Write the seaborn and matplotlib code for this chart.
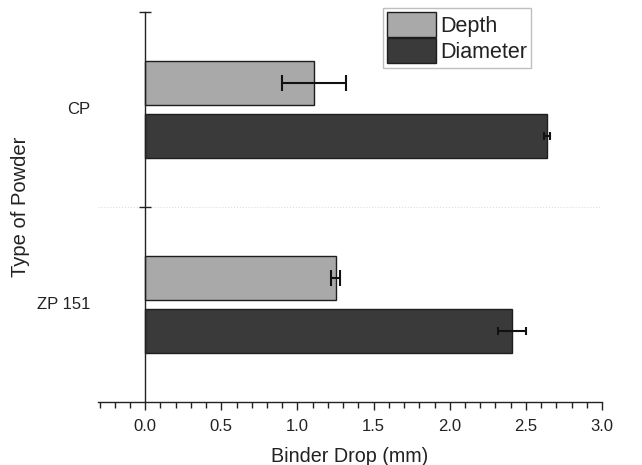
import pandas as pd
import matplotlib.pyplot as plt
import matplotlib.transforms as mtransforms
from matplotlib.ticker import MultipleLocator
import seaborn as sns

# valeurs (mm)
powders = ["CP", "ZP 151"]
measures = ["Depth", "Diameter"]
depth = [1.11, 1.25]
depth_err = [0.21, 0.03]
diameter = [2.64, 2.41]
diameter_err = [0.02, 0.09]

sns.set_style("ticks")
plt.rcParams['font.family'] = ['Liberation Sans', 'DejaVu Sans']

df = pd.DataFrame({
    "powder": powders * 2,
    "measure": [measures[0]] * 2 + [measures[1]] * 2,
    "value": depth + diameter,
})

fig = plt.figure(figsize=(6.42, 4.65), dpi=100)
ax = fig.add_axes([98 / 642, 63 / 465, 504 / 642, 390 / 465])

sns.barplot(data=df, x="value", y="powder", hue="measure", orient="h",
            palette=["#a9a9a9", "#3a3a3a"], width=0.544, gap=0.158,
            edgecolor="#1e1e1e", linewidth=1.0, errorbar=None, ax=ax)

# barres d'erreur sur le centre des barres
for cont, errs, cap in zip(ax.containers, [depth_err, diameter_err], [5.5, 3.0]):
    vals = [p.get_width() for p in cont]
    centers = [p.get_y() + p.get_height() / 2 for p in cont]
    ax.errorbar(vals, centers, xerr=errs, fmt="none", ecolor="#111111",
                elinewidth=1.5, capsize=cap, capthick=1.5, zorder=5)

ax.set_xlim(-0.31, 3.0)
ax.set_ylim(1.5, -0.5)
ax.xaxis.set_major_locator(MultipleLocator(0.5))
ax.xaxis.set_minor_locator(MultipleLocator(0.1))
ax.tick_params(axis="x", which="major", direction="out", length=6, width=1,
               labelsize=12, colors="#222222", pad=6)
ax.tick_params(axis="x", which="minor", direction="out", length=4, width=1,
               colors="#222222")

ax.set_yticks([-0.5, 0.5], ["", ""])
ax.tick_params(axis="y", which="major", direction="inout", length=8, width=1,
               colors="#222222")
ax.tick_params(axis="y", which="minor", left=False)

for s in ["top", "right"]:
    ax.spines[s].set_visible(False)
ax.spines["left"].set_position(("data", 0))
for s in ["left", "bottom"]:
    ax.spines[s].set_linewidth(1.0)
    ax.spines[s].set_color("#222222")

ax.axhline(0.5, color="#dddddd", linestyle=":", linewidth=0.8, zorder=0)

trans = mtransforms.blended_transform_factory(ax.transAxes, ax.transData)
for i, name in enumerate(powders):
    ax.text(-0.016, i, name, transform=trans, ha="right", va="center",
            fontsize=12, color="#222222")

ax.set_xlabel("Binder Drop (mm)", fontsize=14.2, color="#222222")
ax.xaxis.set_label_coords(0.5, -0.115)
ax.set_ylabel("Type of Powder", fontsize=14.5, color="#222222")
ax.yaxis.set_label_coords(-0.135, 0.5)

handles, labels = ax.get_legend_handles_labels()
leg = ax.legend(handles, labels, loc="upper left", bbox_to_anchor=(0.565, 1.01),
                fontsize=15.5, frameon=True, fancybox=False, edgecolor="#b0b0b0",
                handlelength=2.25, handleheight=1.4, labelspacing=0.05,
                handletextpad=0.2, borderpad=0.2, borderaxespad=0)
leg.get_frame().set_linewidth(1.0)
for t in leg.get_texts():
    t.set_color("#222222")

fig.savefig("out.png", dpi=100)
